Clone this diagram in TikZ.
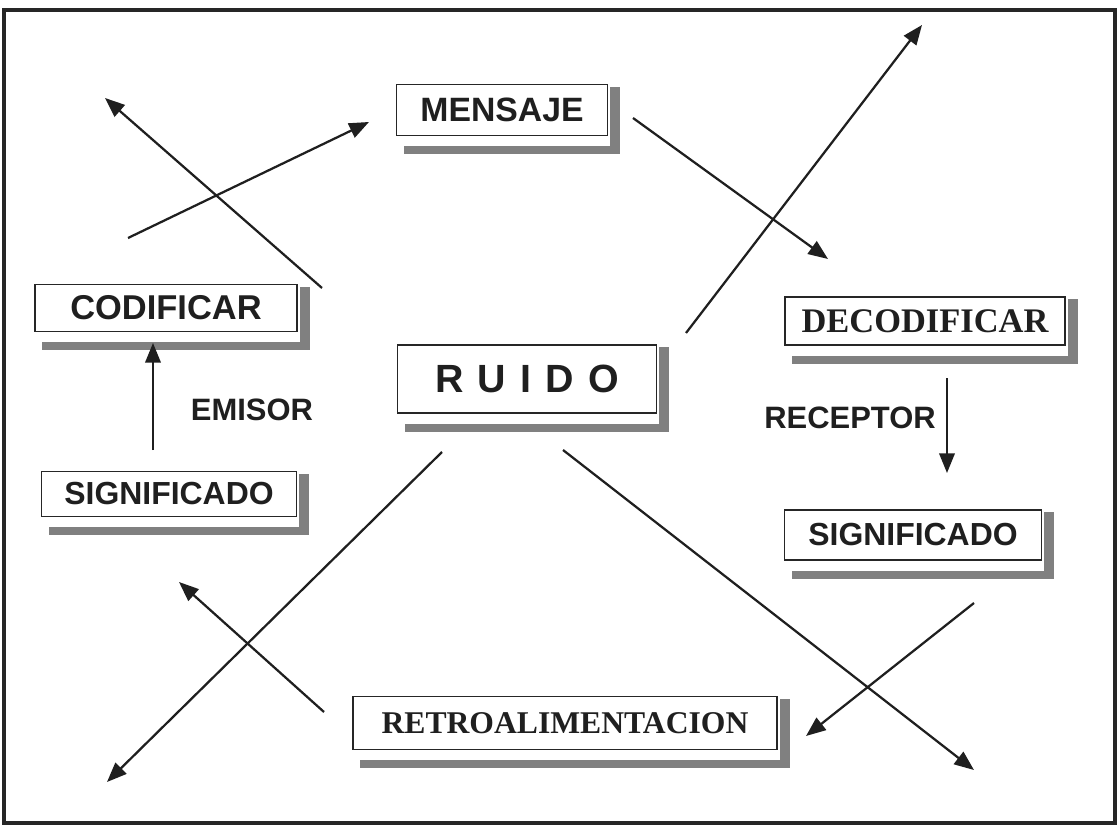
\documentclass[tikz,border=0pt]{standalone}
\usepackage{fontspec}
\setmainfont{Liberation Serif}
\setsansfont{Liberation Sans}
\usetikzlibrary{arrows.meta,calc}

% sombra gris en L abajo a la derecha de una caja
\newcommand{\sombra}[1]{%
  \fill[black!50] ($(#1.north east)+(2,3)$) rectangle ($(#1.south east)+(12,18)$);
  \fill[black!50] ($(#1.south west)+(8,10)$) rectangle ($(#1.south east)+(12,18)$);
}

\begin{document}
\begin{tikzpicture}[x=0.025cm,y=-0.025cm,
    caja/.style={draw=black!85, line width=1.1pt, fill=white, inner sep=0pt,
      text=black!88, font=\sffamily\bfseries\fontsize{22.7}{26}\selectfont},
    cajaserif/.style={caja, font=\rmfamily\bfseries\fontsize{24.5}{28}\selectfont},
    rotulo/.style={text=black!88, font=\sffamily\bfseries\fontsize{22}{26}\selectfont},
    flecha/.style={draw=black!88, line width=1.6pt, -{Triangle[length=14pt,width=11pt]}}]
  \useasboundingbox (0,0) rectangle (1120,827);
  \draw[black!85, line width=2.6pt] (4,10) rectangle (1115,823);

  % cajas
  \node[caja, minimum width=5.28cm, minimum height=1.28cm,
        font=\sffamily\bfseries\fontsize{24}{28}\selectfont] (mensaje) at (502,110) {MENSAJE};
  \node[caja, minimum width=6.55cm, minimum height=1.18cm,
        font=\sffamily\bfseries\fontsize{24.5}{28}\selectfont] (codificar) at (166,308) {CODIFICAR};
  \node[caja, minimum width=6.48cm, minimum height=1.7cm,
        font=\sffamily\bfseries\fontsize{28}{32}\selectfont] (ruido) at (527,379)
        {R\hspace{0.36em}U\hspace{0.36em}I\hspace{0.36em}D\hspace{0.36em}O};
  \node[cajaserif, minimum width=7.0cm, minimum height=1.2cm] (decodificar) at (925,321) {DECODIFICAR};
  \node[caja, minimum width=6.38cm, minimum height=1.13cm] (signifA) at (169,494) {SIGNIFICADO};
  \node[caja, minimum width=6.43cm, minimum height=1.25cm] (signifB) at (913,535) {SIGNIFICADO};
  \node[cajaserif, minimum width=10.6cm, minimum height=1.33cm,
        font=\rmfamily\bfseries\fontsize{22.5}{26}\selectfont] (retro) at (565,723) {RETROALIMENTACION};
  \sombra{mensaje}
  \sombra{codificar}
  \sombra{ruido}
  \sombra{decodificar}
  \sombra{signifA}
  \sombra{signifB}
  \sombra{retro}

  \node[rotulo] (emisor) at (252,410) {EMISOR};
  \node[rotulo] (receptor) at (850,418) {RECEPTOR};

  % extremos de las flechas
  \coordinate (c1) at (128,238);  \coordinate (m1) at (369,122);
  \coordinate (c2) at (322,288);  \coordinate (m2) at (105,98);
  \coordinate (d1) at (633,118);  \coordinate (d2) at (828,259);
  \coordinate (r1) at (686,333);  \coordinate (r2) at (922,25);
  \coordinate (e1) at (153,450);  \coordinate (e2) at (153,343);
  \coordinate (s1) at (947,378);  \coordinate (s2) at (947,473);
  \coordinate (r3) at (442,452);  \coordinate (r4) at (107,782);
  \coordinate (r5) at (563,450);  \coordinate (r6) at (974,770);
  \coordinate (t1) at (974,603);  \coordinate (t2) at (806,736);
  \coordinate (t3) at (324,712);  \coordinate (t4) at (179,582);

  \begin{scope}[flecha]
    \draw (c1) to (m1);
    \draw (c2) to (m2);
    \draw (d1) to (d2);
    \draw (r1) to (r2);
    \draw (e1) to (e2);
    \draw (s1) to (s2);
    \draw (r3) to (r4);
    \draw (r5) to (r6);
    \draw (t1) to (t2);
    \draw (t3) to (t4);
  \end{scope}
\end{tikzpicture}
\end{document}
